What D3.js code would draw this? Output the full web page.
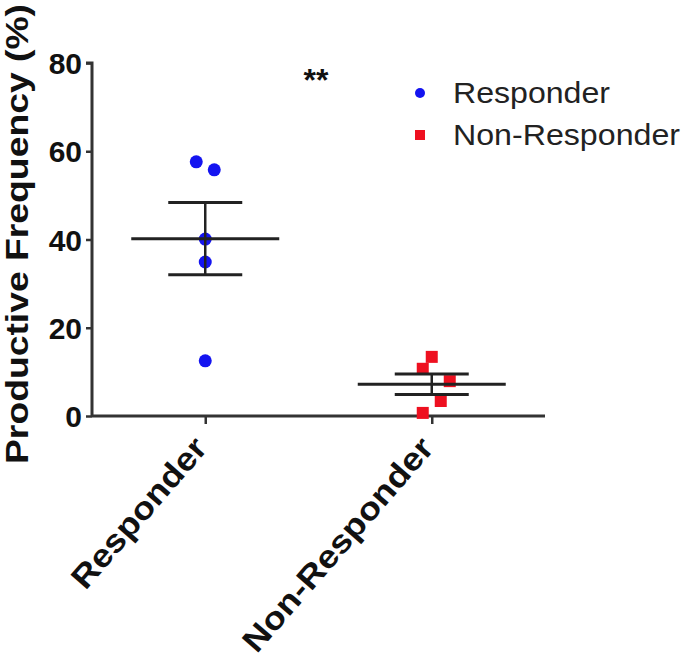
<!DOCTYPE html>
<html>
<head>
<meta charset="utf-8">
<script src="https://cdn.jsdelivr.net/npm/d3@7/dist/d3.min.js"></script>
<style>
  html, body { margin: 0; padding: 0; background: #fff; }
  svg { display: block; }
  text { font-family: "Liberation Sans", Arial, sans-serif; }
</style>
</head>
<body>
<svg id="chart" width="685" height="662"></svg>
<script>
// ---- data ----
const categories = ["Responder", "Non-Responder"];
const responderValues = [57.6, 55.8, 40.1, 34.9, 12.5];
const nonResponderValues = [13.4, 10.7, 7.9, 3.4, 0.7];
const responderDodge = [-1, 1, 0, 0, 0];
const nonResponderDodge = [0, -1, 2, 1, -1];
const yTicks = [0, 20, 40, 60, 80];
const significance = "**";
const yTitle = "Productive Frequency (%)";

// ---- layout ----
(function () {
const svg = d3.select("#chart");
const mLeft = 92, mRight = 545, mTop = 63, mBottom = 416;
const x = d3.scalePoint().domain(categories).range([mLeft, mRight]).padding(0.5);
const y = d3.scaleLinear().domain([0, 80]).range([mBottom, mTop]);
const axisColor = "#333";
const lineColor = "#222";
const blue = "#1414f0";
const red = "#ee1020";

const groups = [
  { name: categories[0], values: responderValues, dodge: responderDodge, color: blue, shape: "circle" },
  { name: categories[1], values: nonResponderValues, dodge: nonResponderDodge, color: red, shape: "square" }
];
groups.forEach(g => {
  g.mean = d3.mean(g.values);
  g.sem = d3.deviation(g.values) / Math.sqrt(g.values.length);
});

// axes
const yAxis = d3.axisLeft(y).tickValues(yTicks).tickSize(6).tickPadding(4);
const gy = svg.append("g").attr("transform", `translate(${mLeft},0)`).call(yAxis);
gy.select(".domain").attr("stroke", axisColor).attr("stroke-width", 3).attr("d", `M-6,${mTop}H0V${mBottom}`);
gy.selectAll(".tick line").attr("stroke", axisColor).attr("stroke-width", 2.5);
gy.selectAll(".tick text").attr("font-size", 30).attr("font-weight", "bold").attr("fill", "#111")
  .attr("dy", "0.35em");

const xAxis = d3.axisBottom(x).tickSize(8).tickSizeOuter(0);
const gx = svg.append("g").attr("transform", `translate(0,${mBottom})`).call(xAxis);
gx.select(".domain").attr("stroke", axisColor).attr("stroke-width", 3).attr("d", `M${mLeft},0H${mRight}`);
gx.selectAll(".tick line").attr("stroke", axisColor).attr("stroke-width", 2.5);
gx.selectAll(".tick text")
  .attr("font-size", 32).attr("font-weight", "bold").attr("fill", "#111")
  .attr("text-anchor", "end")
  .attr("dy", 0)
  .attr("transform", "translate(3,33) rotate(-49)")
  .attr("y", 0).attr("x", 0)
  .attr("textLength", d => d === "Responder" ? 188 : 272)
  .attr("lengthAdjust", "spacingAndGlyphs");

// y title
svg.append("text")
  .attr("transform", `translate(28,${(3 + 465) / 2}) rotate(-90)`)
  .attr("text-anchor", "middle")
  .attr("font-size", 31).attr("font-weight", "bold").attr("fill", "#111")
  .attr("textLength", 460).attr("lengthAdjust", "spacingAndGlyphs")
  .text(yTitle);

// points
const spacing = 9;
groups.forEach(g => {
  const cx = x(g.name);
  const gg = svg.append("g");
  g.values.forEach((v, i) => {
    const px = cx + g.dodge[i] * spacing;
    if (g.shape === "circle") {
      gg.append("circle").attr("cx", px).attr("cy", y(v)).attr("r", 6.5).attr("fill", g.color);
    } else {
      gg.append("rect").attr("x", px - 6).attr("y", y(v) - 6).attr("width", 12).attr("height", 12).attr("fill", g.color);
    }
  });
  // mean & SEM
  const lg = svg.append("g").attr("stroke", lineColor).attr("stroke-width", 3);
  lg.append("line").attr("x1", cx - 74).attr("x2", cx + 74).attr("y1", y(g.mean)).attr("y2", y(g.mean));
  lg.append("line").attr("x1", cx - 37).attr("x2", cx + 37).attr("y1", y(g.mean + g.sem)).attr("y2", y(g.mean + g.sem));
  lg.append("line").attr("x1", cx - 37).attr("x2", cx + 37).attr("y1", y(g.mean - g.sem)).attr("y2", y(g.mean - g.sem));
  lg.append("line").attr("x1", cx).attr("x2", cx).attr("y1", y(g.mean + g.sem)).attr("y2", y(g.mean - g.sem)).attr("stroke-width", 2.5);
});

// significance
svg.append("text").attr("x", 316).attr("y", 91).attr("text-anchor", "middle")
  .attr("font-size", 32).attr("font-weight", "bold").attr("fill", "#111").text(significance);

// legend
const legend = svg.append("g");
groups.forEach((g, i) => {
  const ly = 93 + i * 42;
  if (g.shape === "circle") {
    legend.append("circle").attr("cx", 420).attr("cy", ly).attr("r", 5).attr("fill", g.color);
  } else {
    legend.append("rect").attr("x", 415).attr("y", ly - 5).attr("width", 10).attr("height", 10).attr("fill", g.color);
  }
  legend.append("text").attr("x", 453).attr("y", ly + 10)
    .attr("font-size", 29).attr("fill", "#222")
    .attr("textLength", i === 0 ? 157 : 227).attr("lengthAdjust", "spacingAndGlyphs")
    .text(g.name);
});
})();
</script>
</body>
</html>
